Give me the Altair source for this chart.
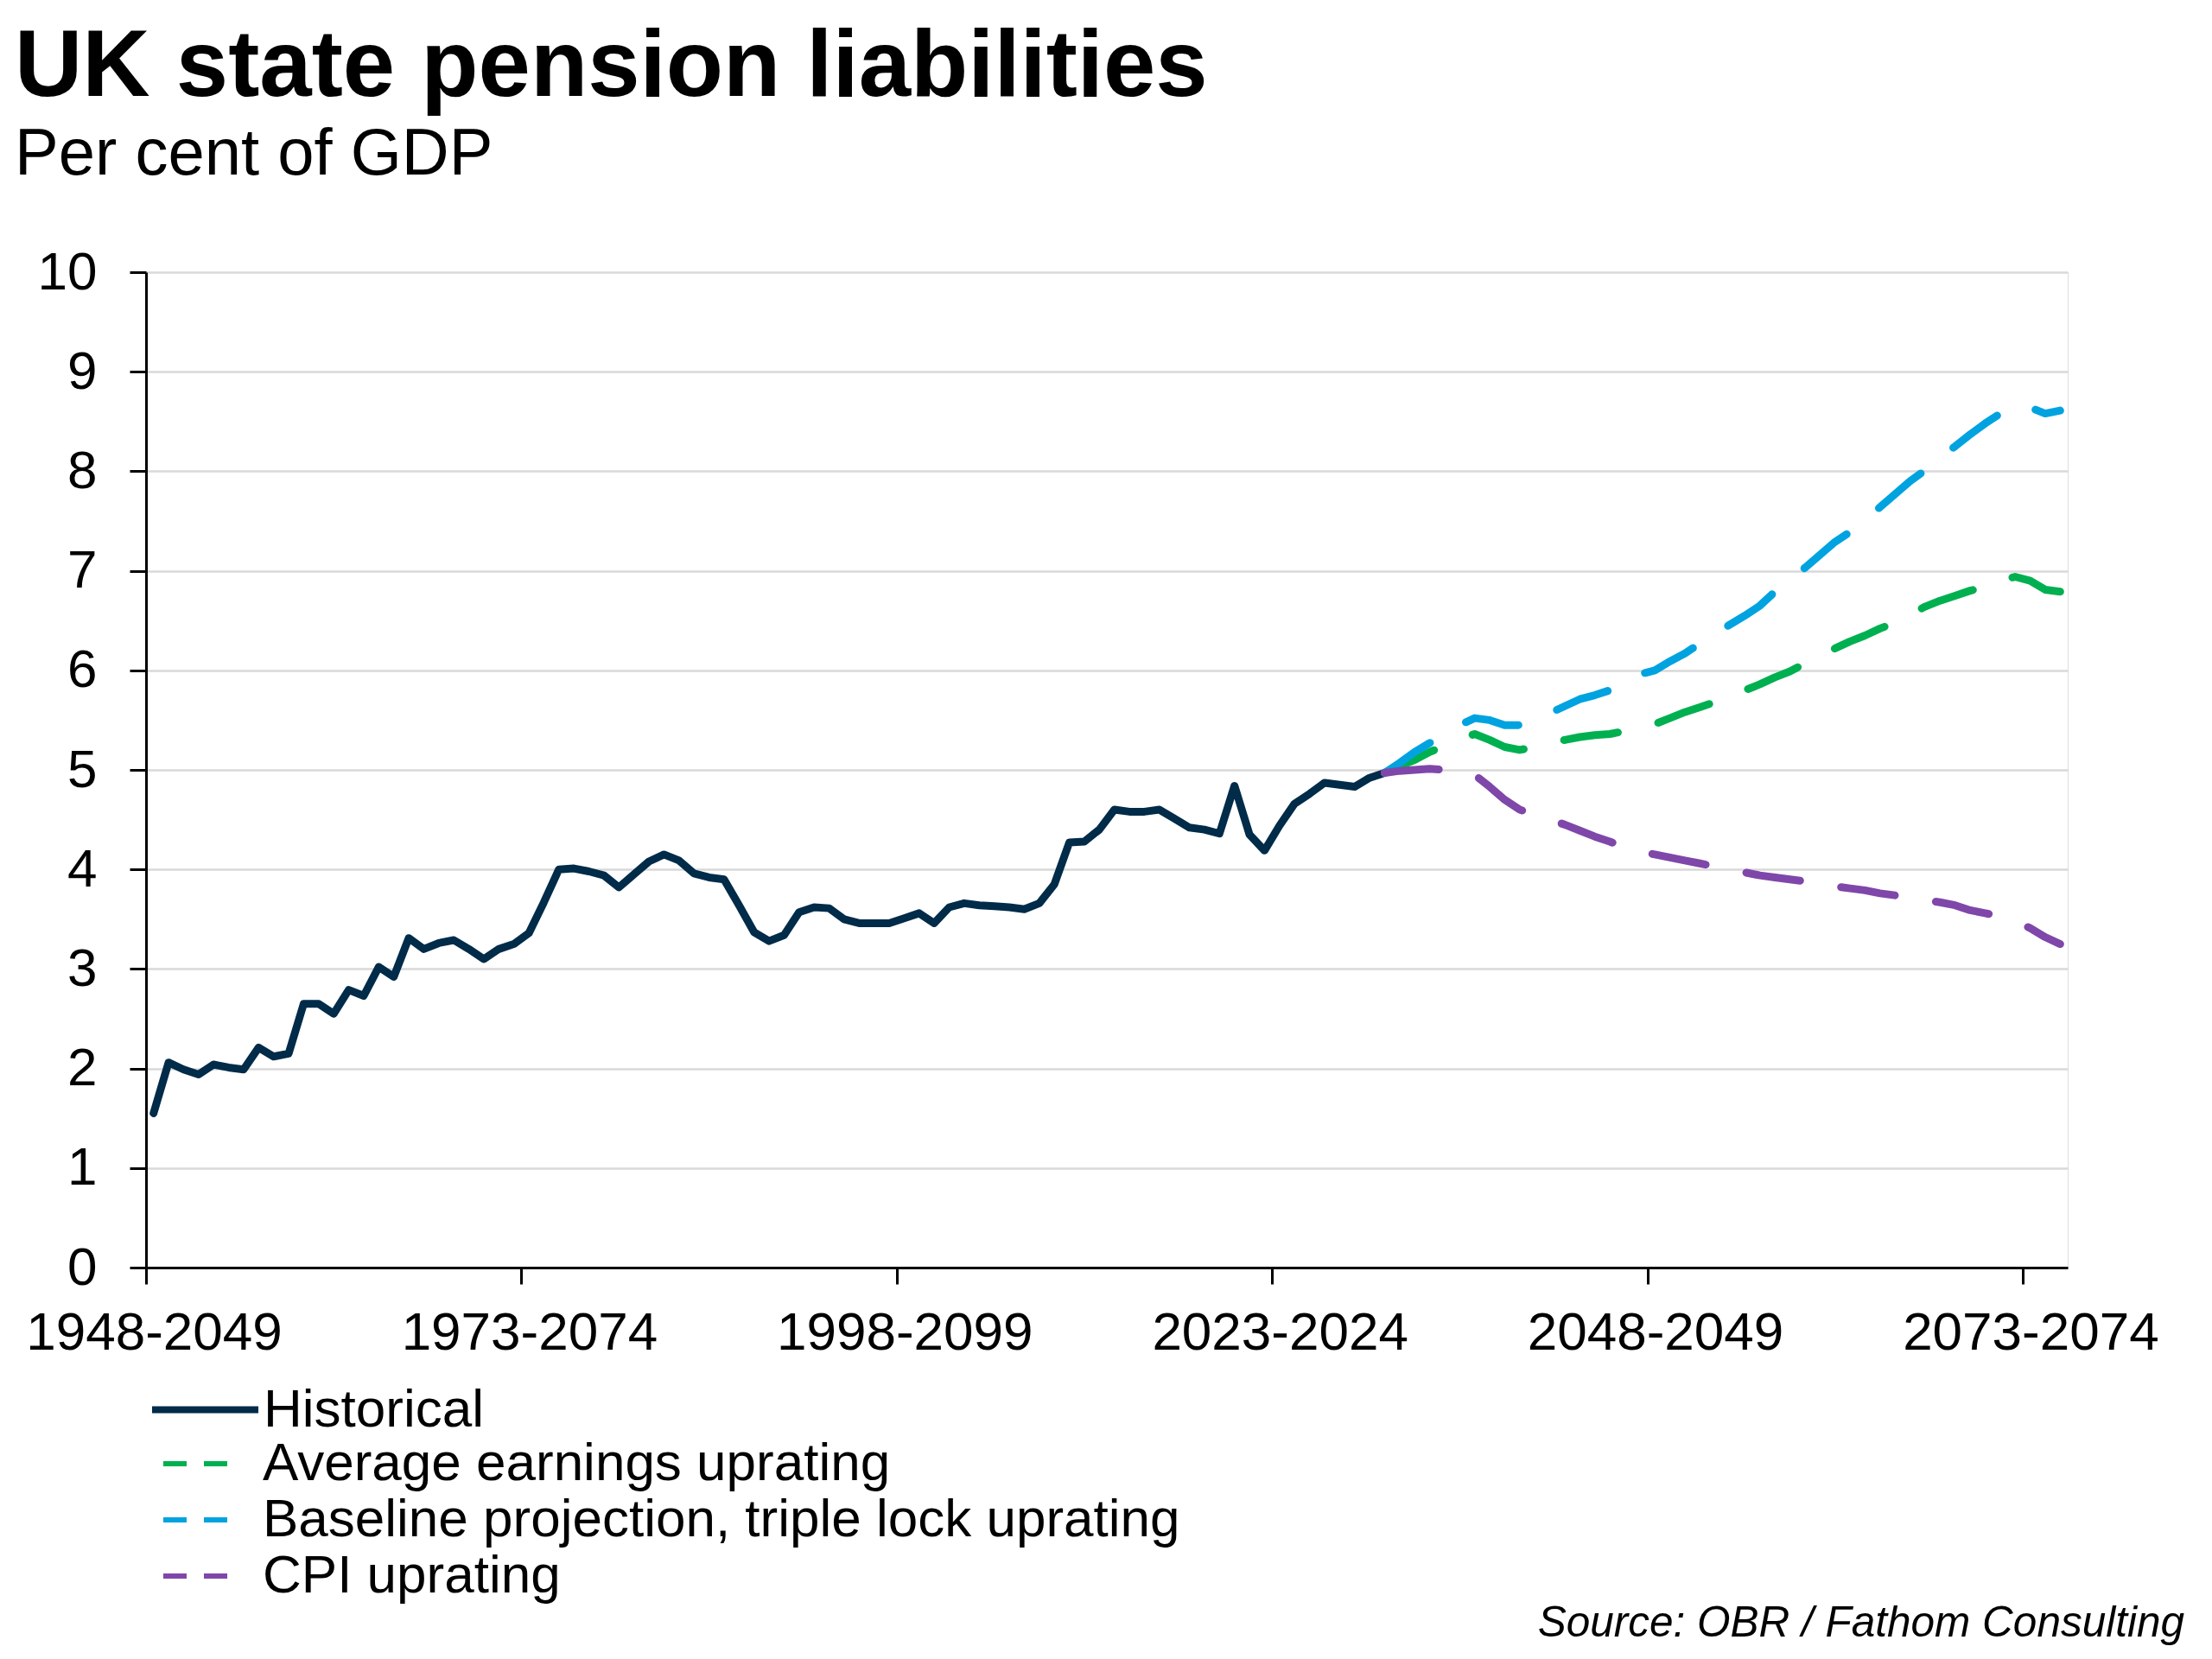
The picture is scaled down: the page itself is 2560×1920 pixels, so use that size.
import altair as alt
import pandas as pd

FONT = "Liberation Sans"

# Fiscal years (start year); one category per year, points at category centres
start_years = list(range(1948, 2076))
tick_years = [1948, 1973, 1998, 2023, 2048, 2073]
tick_labels = ["1948-2049", "1973-2074", "1998-2099", "2023-2024", "2048-2049", "2073-2074"]

# Historical, 1948 .. 2030
historical = [
    1.55, 2.06, 1.99, 1.94, 2.04, 2.01, 1.99, 2.21, 2.12, 2.15,
    2.65, 2.65, 2.55, 2.79, 2.73, 3.02, 2.92, 3.31, 3.20, 3.26,
    3.29, 3.20, 3.10, 3.20, 3.25, 3.36, 3.67, 4.00, 4.01, 3.98,
    3.94, 3.82, 3.95, 4.08, 4.15, 4.09, 3.96, 3.92, 3.90, 3.64,
    3.37, 3.28, 3.34, 3.57, 3.62, 3.61, 3.50, 3.46, 3.46, 3.46,
    3.51, 3.56, 3.46, 3.62, 3.66, 3.64, 3.63, 3.62, 3.60, 3.66,
    3.85, 4.27, 4.28, 4.40, 4.60, 4.58, 4.58, 4.60, 4.51, 4.42,
    4.40, 4.36, 4.84, 4.35, 4.19, 4.44, 4.66, 4.76, 4.87, 4.85,
    4.83, 4.92, 4.97,
]

# Projections, 2030 .. 2075
proj_start = 2030
average_earnings = [
    4.97, 5.04, 5.10, 5.18, 5.24, 5.31, 5.36, 5.30, 5.23, 5.20,
    5.23, 5.28, 5.30, 5.33, 5.35, 5.36, 5.39, 5.43, 5.46, 5.52,
    5.58, 5.63, 5.68, 5.74, 5.80, 5.86, 5.93, 5.99, 6.07, 6.14,
    6.22, 6.29, 6.35, 6.42, 6.48, 6.56, 6.64, 6.70, 6.75, 6.80,
    6.84, 6.90, 6.94, 6.90, 6.81, 6.79,
]
triple_lock = [
    4.97, 5.07, 5.18, 5.27, 5.35, 5.45, 5.52, 5.50, 5.45, 5.45,
    5.52, 5.57, 5.64, 5.71, 5.75, 5.80, 5.87, 5.96, 6.00, 6.09,
    6.17, 6.27, 6.36, 6.46, 6.55, 6.65, 6.79, 6.92, 7.03, 7.16,
    7.29, 7.39, 7.51, 7.64, 7.77, 7.90, 8.01, 8.14, 8.25, 8.37,
    8.48, 8.58, 8.66, 8.64, 8.58, 8.61,
]
cpi = [
    4.97, 4.99, 5.00, 5.01, 5.00, 4.98, 4.95, 4.83, 4.70, 4.60,
    4.55, 4.50, 4.45, 4.39, 4.33, 4.28, 4.22, 4.18, 4.15, 4.12,
    4.09, 4.06, 4.03, 3.99, 3.97, 3.94, 3.92, 3.90, 3.88, 3.86,
    3.83, 3.81, 3.79, 3.76, 3.74, 3.72, 3.69, 3.67, 3.64, 3.59,
    3.56, 3.53, 3.48, 3.41, 3.32, 3.25,
]

hist_name = "Historical"
proj_names = [
    "Average earnings uprating",
    "Baseline projection, triple lock uprating",
    "CPI uprating",
]
hist_color = "#002B49"
proj_colors = ["#00B050", "#00A3E0", "#7F47A9"]
source_text = "Source: OBR / Fathom Consulting"

hist_df = pd.DataFrame({
    "series": hist_name,
    "pos": [start_years[i] + 0.5 for i in range(len(historical))],
    "value": historical,
})
proj_rows = []
for name, vals in zip(proj_names, [average_earnings, triple_lock, cpi]):
    for i, v in enumerate(vals):
        proj_rows.append({"series": name, "pos": proj_start + i + 0.5, "value": v})
proj_df = pd.DataFrame(proj_rows)

label_expr = (
    "[" + ",".join("'%s'" % t for t in tick_labels) + "][indexof(["
    + ",".join(str(y) for y in tick_years) + "], datum.value)]"
)

x_enc = alt.X(
    "pos:Q",
    scale=alt.Scale(domain=[1948, 2076], nice=False, zero=False),
    axis=alt.Axis(
        title=None, values=tick_years, labelExpr=label_expr, grid=False,
        domainColor="black", domainWidth=3, tickColor="black", tickWidth=3, tickSize=19,
        labelFont=FONT, labelFontSize=62, labelColor="black", labelPadding=26,
        labelOffset=9, labelFlush=False, labelOverlap=False, labelLimit=0,
    ),
)
y_enc = alt.Y(
    "value:Q",
    scale=alt.Scale(domain=[0, 10], nice=False),
    axis=alt.Axis(
        title=None, values=list(range(11)), grid=True, gridColor="#D9D9D9", gridWidth=2.5,
        domainColor="black", domainWidth=3, tickColor="black", tickWidth=3, tickSize=19,
        labelFont=FONT, labelFontSize=62, labelColor="black", labelPadding=38,
    ),
)

legend_common = dict(
    title=None, orient="none", direction="vertical",
    labelFont=FONT, labelFontSize=62, labelColor="black",
    labelLimit=0, padding=0,
)

hist_line = alt.Chart(hist_df).mark_line(strokeWidth=9, strokeCap="round", strokeJoin="round").encode(
    x=x_enc,
    y=y_enc,
    color=alt.Color(
        "series:N",
        scale=alt.Scale(domain=[hist_name], range=[hist_color]),
        legend=alt.Legend(legendX=3, legendY=1251, symbolType="stroke", symbolSize=15129,
                          symbolStrokeWidth=8, labelOffset=2, rowPadding=0, **legend_common),
    ),
    order="pos:Q",
)

proj_lines = alt.Chart(proj_df).mark_line(strokeWidth=9, strokeCap="round", strokeJoin="round").encode(
    x=x_enc,
    y=y_enc,
    color=alt.Color(
        "series:N",
        scale=alt.Scale(domain=proj_names, range=proj_colors),
        legend=alt.Legend(legendX=26, legendY=1348,
                          symbolType="M-1.48,0H-0.4M0.4,0H1.48", symbolSize=2500,
                          symbolStrokeWidth=6, symbolFillColor="transparent",
                          labelOffset=47, rowPadding=3, **legend_common),
    ),
    strokeDash=alt.StrokeDash(
        "series:N",
        scale=alt.Scale(domain=proj_names, range=[[63, 48], [63, 48], [63, 48]]),
        legend=None,
    ),
    order="pos:Q",
)

source = alt.Chart(pd.DataFrame({"t": [source_text]})).mark_text(
    align="right", baseline="alphabetic", font=FONT, fontSize=49.5, fontStyle="italic", color="black"
).encode(x=alt.value(2359), y=alt.value(1579), text="t:N")

chart = alt.layer(hist_line, proj_lines, source).resolve_scale(
    color="independent", strokeDash="independent"
).properties(
    width=2224,
    height=1152,
    padding={"left": 161, "top": 307, "right": 158, "bottom": 440},
    autosize=alt.AutoSizeParams(type="none"),
    title=alt.Title(
        text="UK state pension liabilities",
        subtitle="Per cent of GDP",
        anchor="start", frame="group", dx=-152, offset=66,
        font=FONT, fontSize=108.5, fontWeight="bold", color="black",
        subtitleFont=FONT, subtitleFontSize=76, subtitleColor="black", subtitlePadding=9,
    ),
).configure_view(stroke=None).configure(background="white")

chart.save("out.html", embed_options={"renderer": "svg", "actions": False})
